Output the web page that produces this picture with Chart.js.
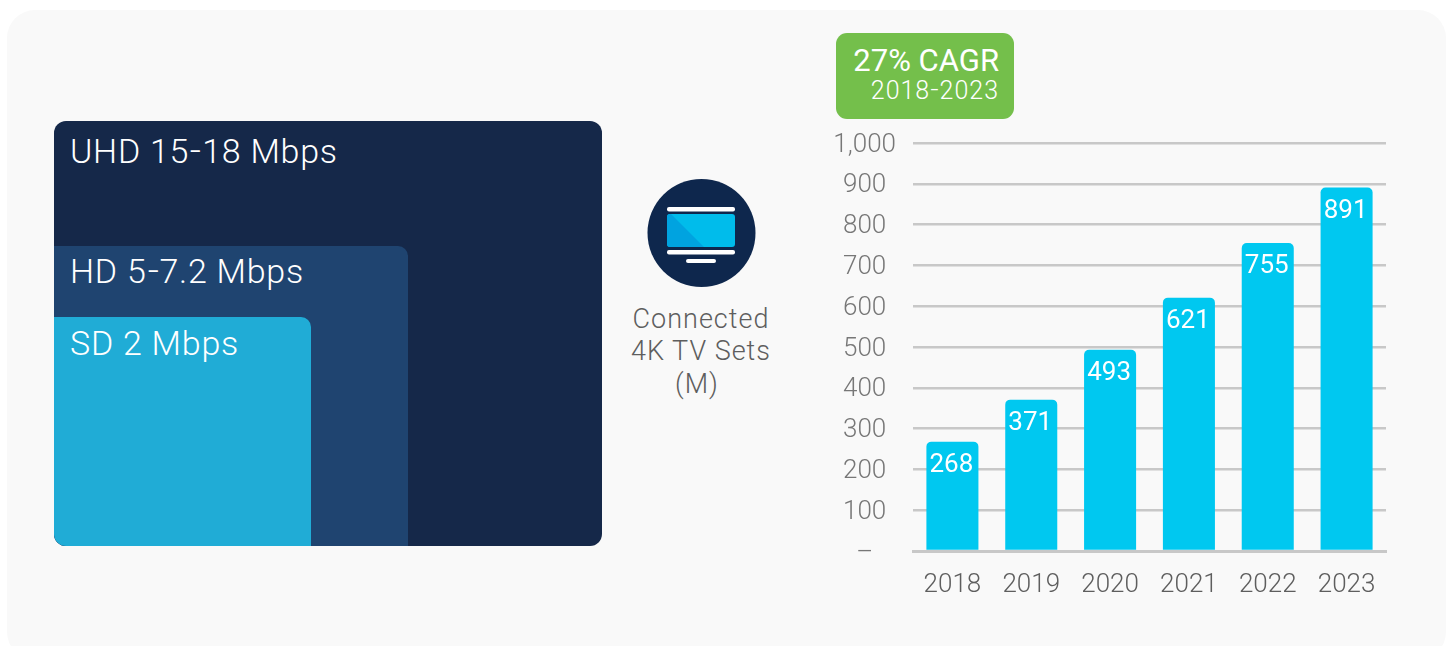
<!DOCTYPE html>
<html>
<head>
<meta charset="utf-8">
<script src="https://cdn.jsdelivr.net/npm/chart.js@4/dist/chart.umd.min.js"></script>
<style>
html,body{margin:0;padding:0;background:#fff;width:1448px;height:646px;overflow:hidden;font-family:Roboto,sans-serif;font-weight:300}
#panel{position:absolute;left:7px;top:10px;width:1439px;height:650px;background:#f9f9f9;border-radius:28px}
.box{position:absolute;left:54px}
.t{position:absolute;white-space:nowrap;line-height:1}
.d{display:inline-block;transform:scaleX(.55);margin:0 -5px}
#uhd{top:121px;width:548px;height:425px;background:#152849;border-radius:12px}
#hd{top:246px;width:354px;height:300px;background:#1f4470;border-radius:0 10px 0 12px}
#sd{top:317px;width:257px;height:229px;background:#20acd6;border-radius:0 10px 0 12px}
.w{color:#fff;font-size:34px;letter-spacing:.75px;left:70px}
.g{color:#5e5e5e;font-size:27px;letter-spacing:1px;text-align:center;width:200px;left:601px}
#badge{position:absolute;left:836px;top:33px;width:178px;height:86px;background:#74bf4b;border-radius:11px}
canvas{position:absolute;left:0;top:0}
#icon{position:absolute;left:647px;top:178px}
</style>
</head>
<body>
<div id="panel"></div>
<div class="box" id="uhd"></div>
<div class="box" id="hd"></div>
<div class="box" id="sd"></div>
<div class="t w" style="top:134px">UHD 15<span class="d">–</span>18 Mbps</div>
<div class="t w" style="top:254px">HD 5<span class="d">–</span>7.2 Mbps</div>
<div class="t w" style="top:326px">SD 2 Mbps</div>
<svg id="icon" width="110" height="110" viewBox="0 0 110 110">
  <circle cx="54.5" cy="55" r="54" fill="#0e274d"/>
  <rect x="20" y="29" width="68" height="4.5" rx="2" fill="#fff"/>
  <rect x="20" y="36" width="68" height="33" rx="3" fill="#00bceb"/>
  <path d="M20 39 Q20 36 23 36 L24 36 L57 69 L23 69 Q20 69 20 66 Z" fill="#00a3e0"/>
  <rect x="20" y="72" width="68" height="4.5" rx="2" fill="#fff"/>
  <rect x="39" y="81" width="30" height="4" rx="2" fill="#fff"/>
</svg>
<div class="t g" style="top:306px">Connected</div>
<div class="t g" style="top:338px">4K TV Sets</div>
<div class="t g" style="top:371px;left:597px">(M)</div>
<div id="badge"></div>
<div class="t" style="right:449px;top:45px;color:#fff;font-size:31px;font-weight:400">27% CAGR</div>
<div class="t" style="right:449px;top:78px;color:#fff;font-size:25px;letter-spacing:1px">2018<span class="d" style="margin:0 -4px">–</span>2023</div>
<canvas id="c" width="1448" height="646"></canvas>
<script>
const categories = ["2018","2019","2020","2021","2022","2023"];
const connectedSets = [268,371,493,621,755,891];
const tickLabels = {0:"–",100:"100",200:"200",300:"300",400:"400",500:"500",600:"600",700:"700",800:"800",900:"900",1000:"1,000"};

const valueLabels = {
  id:"valueLabels",
  afterDatasetsDraw(chart){
    const ctx = chart.ctx, meta = chart.getDatasetMeta(0);
    ctx.save();
    ctx.fillStyle = "#fff";
    ctx.font = "400 26px Roboto";
    ctx.textAlign = "center";
    ctx.textBaseline = "middle";
    meta.data.forEach((bar,i)=>ctx.fillText(String(connectedSets[i]), bar.x-1, bar.y+24));
    ctx.restore();
  }
};

new Chart(document.getElementById("c"),{
  type:"bar",
  data:{labels:categories,datasets:[{
    data:connectedSets,
    backgroundColor:"#00c8f0",
    borderRadius:{topLeft:5,topRight:5,bottomLeft:0,bottomRight:0},
    borderSkipped:false,
    barPercentage:0.66,
    categoryPercentage:1
  }]},
  options:{
    responsive:false,
    animation:false,
    layout:{padding:{left:820,top:143,right:62,bottom:0}},
    plugins:{legend:{display:false},tooltip:{enabled:false}},
    scales:{
      x:{
        afterFit(s){s.height=95},
        grid:{display:false},
        border:{display:true,color:"#c8c8c8",width:3,z:1},
        ticks:{color:"#5e5e5e",font:{family:"Roboto",size:26,weight:"300"},padding:11,maxRotation:0}
      },
      y:{
        min:0,max:1000,
        afterFit(s){s.width=93},
        afterBuildTicks(s){s.ticks=Object.keys(tickLabels).map(v=>({value:+v}))},
        grid:{color:"#c8c8c8",lineWidth:2.5,drawTicks:false},
        border:{display:false},
        ticks:{
          color:"#777",
          font:{family:"Roboto",size:26,weight:"300"},
          padding:17,
          labelOffset:2,
          crossAlign:"center",
          callback:v=>tickLabels[v]
        }
      }
    }
  },
  plugins:[valueLabels]
});
</script>
</body>
</html>
